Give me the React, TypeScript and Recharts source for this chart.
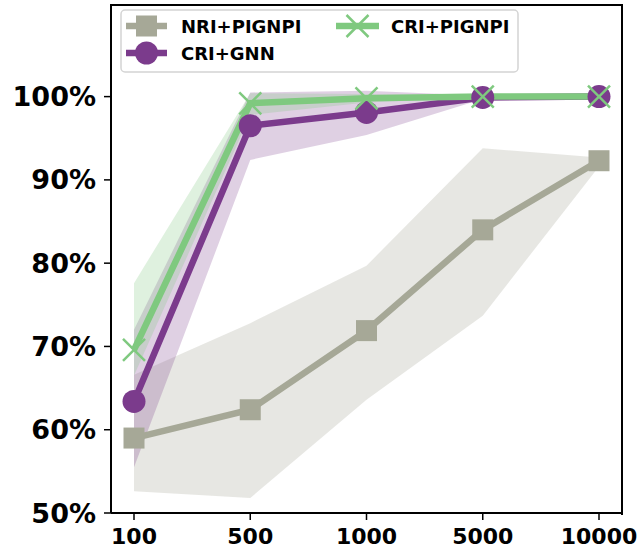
import React from 'react'
import { ComposedChart, Line, Area, XAxis, YAxis } from 'recharts'

// training set sizes
const sizes = ['100', '500', '1000', '5000', '10000']
const yTicks = [50, 60, 70, 80, 90, 100]

// NRI+PIGNPI
const nriMean = [59.0, 62.4, 71.9, 84.0, 92.3]
const nriLow = [52.6, 51.8, 63.6, 73.7, 91.6]
const nriHigh = [66.6, 72.8, 79.7, 93.8, 92.7]

// CRI+GNN
const gnnMean = [63.4, 96.5, 98.1, 99.9, 100.0]
const gnnLow = [55.5, 92.4, 95.4, 99.7, 99.9]
const gnnHigh = [72.0, 100.5, 100.7, 100.1, 100.1]

// CRI+PIGNPI
const criMean = [69.6, 99.2, 99.8, 100.0, 100.0]
const criLow = [66.5, 97.8, 99.3, 99.9, 99.9]
const criHigh = [77.6, 100.4, 100.3, 100.1, 100.1]

const GRAY = '#a6a897'
const PURPLE = '#7b3b8c'
const GREEN = '#7fc97f'
const FONT = "'DejaVu Sans', sans-serif"

const data = sizes.map((n, i) => ({
  n,
  nri: nriMean[i],
  nriBand: [nriLow[i], nriHigh[i]],
  gnn: gnnMean[i],
  gnnBand: [gnnLow[i], gnnHigh[i]],
  cri: criMean[i],
  criBand: [criLow[i], criHigh[i]],
}))

const SquareDot = ({ cx, cy }: any) => (
  <rect x={cx - 10.5} y={cy - 10.5} width={21} height={21} fill={GRAY} />
)
const CircleDot = ({ cx, cy }: any) => <circle cx={cx} cy={cy} r={11.5} fill={PURPLE} />
const CrossDot = ({ cx, cy }: any) => (
  <g stroke={GREEN} strokeWidth={2.5}>
    <line x1={cx - 11} y1={cy - 11} x2={cx + 11} y2={cy + 11} />
    <line x1={cx - 11} y1={cy + 11} x2={cx + 11} y2={cy - 11} />
  </g>
)

const LegendBox = () => (
  <svg
    width={399}
    height={64}
    style={{ position: 'absolute', left: 120, top: 9 }}
    fontFamily={FONT}
    fontWeight="bold"
    fontSize={18}
  >
    <rect x={1} y={1} width={397} height={62} rx={4} fill="#fff" fillOpacity={0.8} stroke="#d4d4d4" strokeWidth={1.5} />
    <line x1={6} y1={17} x2={47} y2={17} stroke={GRAY} strokeWidth={6.5} />
    <SquareDot cx={26.5} cy={17} />
    <text x={61} y={24}>NRI+PIGNPI</text>
    <line x1={6} y1={44} x2={47} y2={44} stroke={PURPLE} strokeWidth={6.5} />
    <CircleDot cx={26.5} cy={44} />
    <text x={61} y={51}>CRI+GNN</text>
    <line x1={216} y1={17} x2={259} y2={17} stroke={GREEN} strokeWidth={6.5} />
    <CrossDot cx={237.5} cy={17} />
    <text x={271} y={24}>CRI+PIGNPI</text>
  </svg>
)

export default function App() {
  return (
    <div style={{ position: 'absolute', left: 0, top: 0, width: 639, height: 550, background: '#fff' }}>
      <ComposedChart width={639} height={550} data={data} margin={{ top: 5, right: 17, bottom: 0, left: 0 }}>
        <XAxis
          dataKey="n"
          scale="point"
          padding={{ left: 23, right: 23 }}
          height={37}
          axisLine={{ stroke: '#000', strokeWidth: 2 }}
          tickLine={{ stroke: '#000', strokeWidth: 1.5 }}
          tickSize={7}
          tickMargin={8}
          tick={{ fill: '#000', fontSize: 22, fontWeight: 'bold', fontFamily: FONT }}
        />
        <YAxis
          domain={[50, 111]}
          ticks={yTicks}
          width={111}
          allowDataOverflow
          axisLine={{ stroke: '#000', strokeWidth: 2 }}
          tickLine={{ stroke: '#000', strokeWidth: 1.5 }}
          tickSize={7}
          tickMargin={8}
          tickFormatter={(v) => `${v}%`}
          tick={{ fill: '#000', fontSize: 27, fontWeight: 'bold', fontFamily: FONT }}
        />
        <Area dataKey="nriBand" type="linear" stroke="none" fill={GRAY} fillOpacity={0.27} isAnimationActive={false} />
        <Area dataKey="gnnBand" type="linear" stroke="none" fill={PURPLE} fillOpacity={0.24} isAnimationActive={false} />
        <Area dataKey="criBand" type="linear" stroke="none" fill={GREEN} fillOpacity={0.25} isAnimationActive={false} />
        <Line dataKey="nri" type="linear" stroke={GRAY} strokeWidth={6.5} dot={<SquareDot />} isAnimationActive={false} />
        <Line dataKey="gnn" type="linear" stroke={PURPLE} strokeWidth={6.5} dot={<CircleDot />} isAnimationActive={false} />
        <Line dataKey="cri" type="linear" stroke={GREEN} strokeWidth={6.5} dot={<CrossDot />} isAnimationActive={false} />
      </ComposedChart>
      {/* top and right spines of the axes frame */}
      <div
        style={{
          position: 'absolute',
          left: 110,
          top: 4,
          width: 511,
          height: 509,
          borderTop: '2px solid #000',
          borderRight: '2px solid #000',
          pointerEvents: 'none',
        }}
      />
      <LegendBox />
    </div>
  )
}
